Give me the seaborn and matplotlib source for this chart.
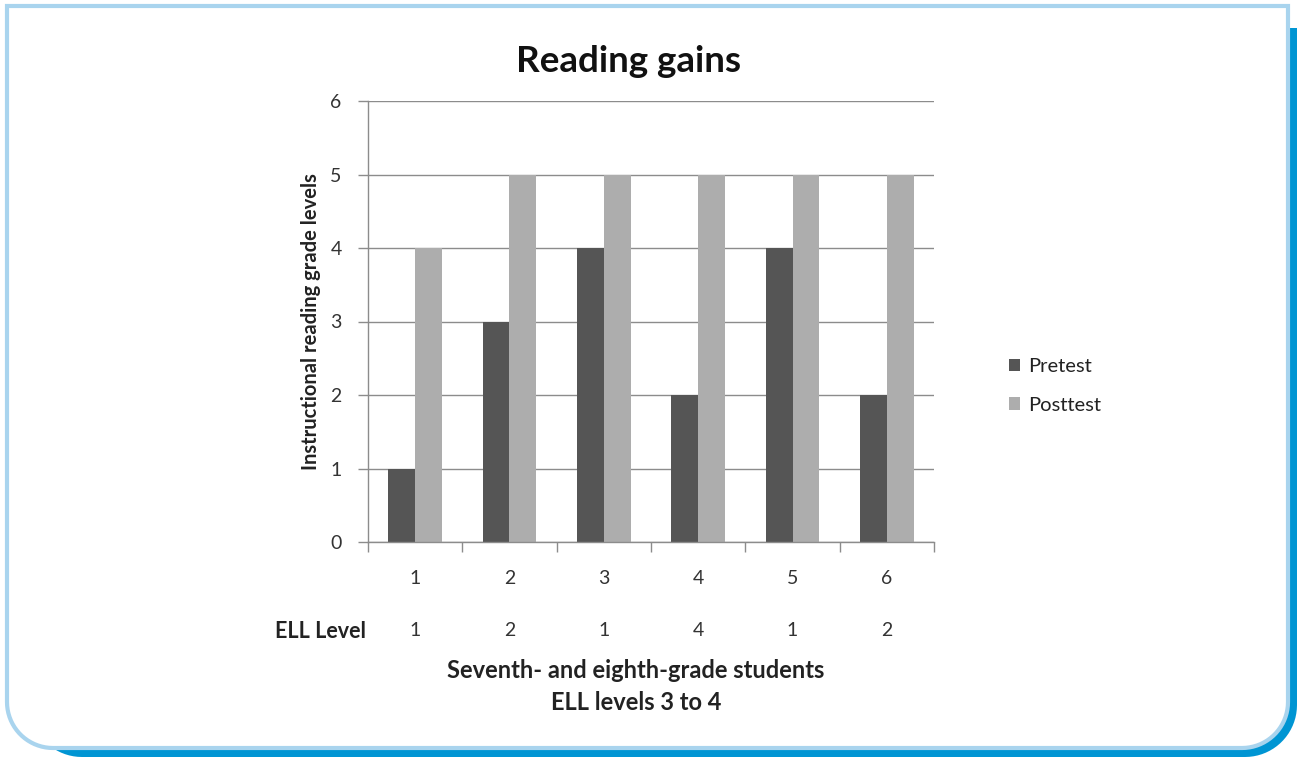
import matplotlib
matplotlib.use("Agg")
import matplotlib.pyplot as plt
from matplotlib.patches import PathPatch
from matplotlib.path import Path
import seaborn as sns
import pandas as pd
import numpy as np

# Data
students = ["1", "2", "3", "4", "5", "6"]
pretest = [1, 3, 4, 2, 4, 2]
posttest = [4, 5, 5, 5, 5, 5]
ell_level = ["1", "2", "1", "4", "1", "2"]
series = ["Pretest", "Posttest"]
colors = ["#555555", "#adadad"]

df = pd.DataFrame({
    "student": students * 2,
    "value": pretest + posttest,
    "test": [series[0]] * len(students) + [series[1]] * len(students),
})

sns.set_theme(style="white")
plt.rcParams["font.family"] = ["Lato", "DejaVu Sans"]

W, H = 1297, 757
fig = plt.figure(figsize=(W / 100, H / 100), dpi=100)
fig.patch.set_facecolor("white")


def box_path(x0, y0, x1, y1, r):
    """Rectangle in pixel coords (y down) with square top corners and
    rounded bottom corners, returned as a figure-fraction Path."""
    pts = [(x0, y0), (x1, y0), (x1, y1 - r)]
    for a in np.linspace(0, np.pi / 2, 20):
        pts.append((x1 - r + r * np.cos(a), y1 - r + r * np.sin(a)))
    for a in np.linspace(np.pi / 2, np.pi, 20):
        pts.append((x0 + r + r * np.cos(a), y1 - r + r * np.sin(a)))
    pts.append((x0, y0))
    pts = [(x / W, 1 - y / H) for x, y in pts]
    codes = [Path.MOVETO] + [Path.LINETO] * (len(pts) - 2) + [Path.CLOSEPOLY]
    return Path(pts, codes)


# blue drop shadow, then the light-bordered card on top
fig.patches.append(PathPatch(box_path(30, 28, 1297, 757, 52),
                             transform=fig.transFigure, facecolor="#0095d3",
                             edgecolor="none", zorder=0))
fig.patches.append(PathPatch(box_path(7, 6, 1288, 748, 46),
                             transform=fig.transFigure, facecolor="white",
                             edgecolor="#a9d4ee", linewidth=3, zorder=1))

ax = fig.add_axes([368 / W, 1 - 542 / H, (934 - 368) / W, (542 - 101) / H])
ax.set_zorder(2)
sns.barplot(data=df, x="student", y="value", hue="test", hue_order=series,
            palette=colors, width=0.57, saturation=1, ax=ax, legend=True,
            edgecolor="none", linewidth=0)

ax.set_ylim(0, 6)
ax.set_xlim(-0.5, len(students) - 0.5)
ax.set_yticks(range(0, 7))
ax.yaxis.grid(True, color="#8c8c8c", linewidth=1)
ax.set_axisbelow(True)
for s in ["top", "right"]:
    ax.spines[s].set_visible(False)
for s in ["left", "bottom"]:
    ax.spines[s].set_color("#8c8c8c")
    ax.spines[s].set_linewidth(1)

# category boundary ticks on x, labels placed below
ax.set_xticks([i - 0.5 for i in range(len(students) + 1)])
ax.set_xticklabels([])
ax.tick_params(axis="x", bottom=True, length=7, color="#8c8c8c", width=1)
ax.tick_params(axis="y", left=True, length=7, color="#8c8c8c", width=1,
               labelsize=14, labelcolor="#333333", pad=12)
for i, (s, e) in enumerate(zip(students, ell_level)):
    ax.annotate(s, (i, 0), xycoords=("data", "axes fraction"), xytext=(0, -36),
                textcoords="offset pixels", ha="center", va="center",
                fontsize=14, color="#333333")
    ax.annotate(e, (i, 0), xycoords=("data", "axes fraction"), xytext=(0, -89),
                textcoords="offset pixels", ha="center", va="center",
                fontsize=14, color="#333333")

ax.set_xlabel("")
ax.set_ylabel("Instructional reading grade levels", fontsize=14.5,
              fontweight="bold", color="#222222", labelpad=7)

fig.text(366 / W, 1 - 631 / H, "ELL Level", ha="right", va="center",
         fontsize=15.5, fontweight="bold", color="#222222")
fig.text(636 / W, 1 - 670 / H, "Seventh- and eighth-grade students",
         ha="center", va="center", fontsize=17, fontweight="bold", color="#222222")
fig.text(636 / W, 1 - 703 / H, "ELL levels 3 to 4",
         ha="center", va="center", fontsize=17, fontweight="bold", color="#222222")
fig.text(628 / W, 1 - 62 / H, "Reading gains", ha="center", va="center",
         fontsize=26.5, fontweight="bold", color="#111111")

handles, labels = ax.get_legend_handles_labels()
ax.legend(handles, labels, loc="center left", bbox_to_anchor=(991 / W, 1 - 386 / H),
          bbox_transform=fig.transFigure, frameon=False, fontsize=14.5,
          handlelength=0.55, handleheight=0.55, handletextpad=0.4,
          labelspacing=1.05, labelcolor="#222222")

fig.savefig("out.png", dpi=100, facecolor="white")
